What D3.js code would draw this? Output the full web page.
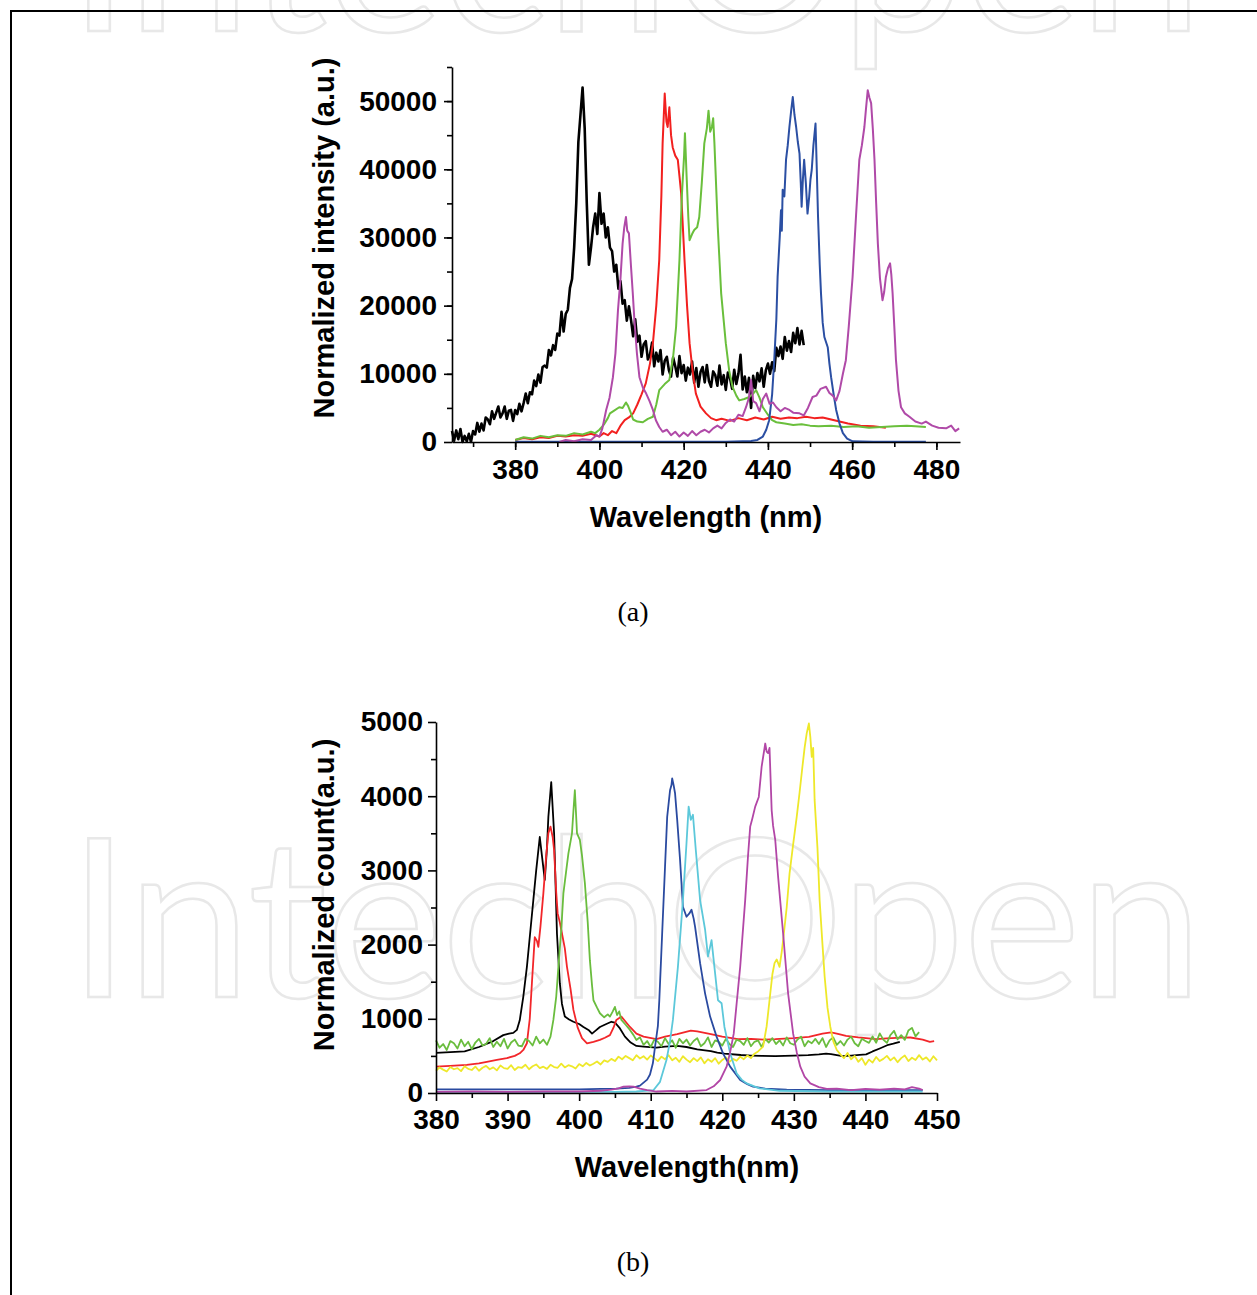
<!DOCTYPE html>
<html>
<head>
<meta charset="utf-8">
<script src="https://cdn.jsdelivr.net/npm/d3@7"></script>
<style>
  html, body { margin: 0; padding: 0; background: #fff; }
  svg { display: block; }
  .tick text { font-family: "Liberation Sans", Arial, sans-serif; font-weight: bold; font-size: 28px; fill: #000; }
  .domain, .tick line { stroke: #000; stroke-width: 1.6px; }
</style>
</head>
<body>
<svg id="chart" width="1257" height="1295"></svg>
<script>
// ---------------- Panel (a) data ----------------
const aXTicks = [380, 400, 420, 440, 460, 480];
const aYTicks = [0, 10000, 20000, 30000, 40000, 50000];
// black spectrum read every 0.5 nm starting at 365 nm
const aBlackStart = 365, aBlackStep = 0.5;
const aBlack = [
  1600,200,1700,400,1900,0,900,100,1200,0,
  1600,1100,2800,1500,2700,1700,3600,3300,2600,4500,
  3400,4300,5200,3600,4200,5200,3400,4600,4700,3100,
  4700,4100,5600,4500,5700,7100,5700,7300,7000,9000,
  8200,9900,8700,11000,11200,10900,13500,12700,14200,13500,
  15900,15600,19100,16200,18800,19400,22600,23900,28500,35000,
  44000,48000,52000,46000,35000,26000,28500,31500,33500,30500,
  36500,32000,33500,30000,31500,28500,28000,25000,26000,22500,
  23600,20300,20800,17800,19900,17900,15500,18000,14700,15600,
  12500,14300,14800,12100,12800,14600,11100,13100,11800,13500,
  9900,11900,12500,10500,9600,12400,11100,9600,12600,10100,
  11300,9000,10900,9900,11800,8700,10850,8100,10250,11000,
  8750,11300,8950,8100,10350,9800,8250,11200,8450,9800,
  7650,10200,9350,7800,10600,8500,10000,12800,7700,9600,
  7300,9400,5000,9700,7900,10100,8900,10800,8100,10500,
  11500,10000,11700,10400,13800,12600,14000,12200,15400,13400,
  14800,13200,16000,14500,16700,14300,16300,14200
];
const aRed = [[380,300],[382,600],[384,400],[386,700],[388,600],[390,900],[392,800],[394,1000],[396,900],[398,1200],[400,800],[401,1300],[402,1000],[403,1600],[404,1300],[405,2400],[406,3200],[407,3600],[408,4200],[409,5500],[410,7000],[411,8600],[412,11500],[412.7,14500],[413.5,20000],[414.2,26700],[414.7,36000],[415,43800],[415.5,51100],[415.9,47000],[416.2,46200],[416.6,49100],[417,45000],[417.4,43200],[418,42000],[418.6,41400],[419,39000],[419.4,36500],[420.2,26700],[420.8,20000],[421.4,14500],[422.2,10000],[422.9,7100],[424,5200],[425.3,4200],[426.5,3500],[427.7,3200],[429,3400],[431,3100],[433,3500],[435,3200],[437,3600],[439,3300],[441,3700],[443,3400],[445,3600],[447,3500],[449,3700],[451,3500],[453,3600],[455,3300],[457,3000],[459,2700],[462,2400],[465,2300],[468,2100]];
const aGreen = [[380,300],[382,700],[384,500],[386,900],[388,700],[390,1000],[392,900],[394,1300],[396,1100],[398,1500],[399,1300],[400,1800],[401,2500],[402,3500],[402.5,4200],[403.5,4600],[404.7,5100],[405.5,5000],[406.3,5800],[406.8,5300],[407.5,4200],[408,3300],[409,3000],[410.3,2900],[411.5,3400],[412.7,3700],[413.5,5500],[414.2,7600],[415.5,8500],[416.6,9100],[417.5,12500],[418.2,16900],[419,26700],[419.6,36500],[420.1,42000],[420.3,45300],[420.7,38900],[421.1,33000],[421.4,29600],[422,30500],[422.5,31100],[423.2,31500],[423.7,33000],[424.3,38000],[424.9,43800],[425.5,46000],[425.9,48600],[426.3,45500],[426.7,46200],[427,47500],[427.3,43800],[428.1,31500],[428.9,21800],[430,14500],[430.8,10500],[431.6,8100],[432.5,6800],[433.2,6100],[434.4,6300],[435.6,6600],[436.5,7100],[437.2,7600],[438,6500],[438.8,5100],[440,4000],[441,3200],[442,2900],[444,2700],[446,2500],[448,2600],[450,2400],[452,2300],[455,2400],[458,2200],[461,2300],[464,2100],[467,2200],[470,2300],[473,2400],[475,2300],[477.5,2200]];
const aBlue = [[380,50],[390,50],[400,50],[410,50],[420,50],[430,50],[434,100],[436,150],[437.5,300],[438.8,800],[439.6,1800],[440.3,3200],[441,7000],[441.5,12000],[442,18000],[442.3,24200],[442.8,30000],[443.1,34000],[443.3,31000],[443.5,37000],[443.9,36000],[444.3,41400],[444.7,43500],[445.1,46200],[445.5,48500],[445.9,50600],[446.3,48000],[446.7,46200],[447.1,44000],[447.5,42300],[447.8,38000],[448,34500],[448.3,38500],[448.6,41400],[449,38000],[449.4,33500],[449.8,36000],[450.1,38500],[450.4,39900],[450.8,43500],[451.3,46700],[451.6,40000],[451.9,33000],[452.3,26000],[452.6,21800],[453,17500],[453.4,15400],[454.2,13900],[454.6,11500],[455,9500],[455.6,7000],[456.2,4700],[457,2700],[457.8,1300],[458.8,500],[460.1,100],[465,50],[470,50],[477.5,50]];
const aMagenta = [[390.5,0],[392,300],[394,100],[396,400],[398,300],[399.3,1000],[400,800],[400.7,2000],[401.6,4700],[402.4,6500],[403.2,9500],[403.8,13000],[404.4,19300],[405,24000],[405.5,29100],[405.9,31500],[406.3,33000],[406.6,31000],[407,30600],[407.5,25700],[407.9,22000],[408.3,17900],[408.9,13000],[409.5,9500],[410.3,8000],[411.1,7100],[411.9,6000],[412.7,4700],[413.4,3200],[414.2,2200],[415,1500],[416,1800],[417,1000],[418,1500],[419,800],[420,1400],[421,900],[422,1600],[423,1000],[424,1500],[425,1800],[426,1400],[427,2000],[428,2400],[429,2000],[430,2800],[431,3300],[432,3000],[433,4000],[434,3800],[434.8,5100],[435.5,6500],[436,9100],[436.5,6000],[437.2,5700],[438,4500],[438.8,6300],[439.6,7100],[440.4,5600],[441.2,5800],[442,5100],[443,4500],[444,5000],[445.1,4700],[446,4300],[447.5,4200],[448.5,3900],[449.5,5000],[450.6,6600],[451.5,6800],[452.5,7800],[453.8,8100],[454.6,7200],[455.4,6800],[456.2,6100],[457,7500],[457.8,10000],[458.5,12000],[459.2,17000],[460.1,24200],[460.9,33000],[461.7,41400],[462.3,43500],[462.9,46200],[463.3,49000],[463.7,51600],[464.1,50500],[464.5,49700],[464.9,46000],[465.3,41400],[465.7,35000],[466.1,29100],[466.6,24000],[467.2,20800],[467.6,22000],[468,24200],[468.5,25500],[469,26200],[469.3,24500],[469.6,21800],[470,17000],[470.4,12000],[471,7500],[471.6,5100],[472.5,4200],[473.6,3700],[475,3000],[476.5,2700],[477.5,3000],[479,2400],[480.5,2100],[482.3,2000],[483.5,2400],[484.5,1600],[485.4,2000]];

// ---------------- Panel (b) data ----------------
const bXTicks = [380, 390, 400, 410, 420, 430, 440, 450];
const bYTicks = [0, 1000, 2000, 3000, 4000, 5000];
const bBlack = [[380,540],[382,550],[384,560],[386,620],[388,700],[389.4,780],[390.2,800],[390.8,810],[391.3,850],[391.7,980],[392.2,1300],[392.7,1700],[393.2,2200],[393.6,2600],[394,3000],[394.5,3450],[394.8,3200],[395.2,2870],[395.5,3300],[395.7,3720],[396.1,4190],[396.5,3500],[396.9,2150],[397.3,1480],[397.6,1200],[398,1030],[398.6,990],[399.2,960],[400,930],[400.6,890],[401.3,850],[401.8,800],[402.3,840],[402.9,890],[403.8,930],[404.5,960],[405,950],[405.7,870],[406.4,760],[407.2,680],[408,634],[409,625],[410.8,612],[412,625],[413.7,634],[415,620],[416.5,589],[418.4,565],[419.3,543],[420.3,530],[422.6,512],[424,505],[425.5,500],[427.4,497],[430,505],[432,510],[433.5,520],[434.5,530],[435.2,525],[436.8,497],[438,505],[439.2,515],[440.1,520],[441,560],[442,600],[443.2,650],[443.9,665],[444.8,690]];
const bRed = [[380,355],[382,365],[384.3,380],[386,400],[387.1,420],[388.5,445],[389.9,470],[391,500],[391.7,535],[392.2,580],[392.7,670],[393.1,1000],[393.4,1480],[393.8,2100],[394.1,2050],[394.3,1970],[394.6,2250],[395,2690],[395.4,3200],[395.7,3500],[396,3590],[396.3,3450],[396.5,3275],[396.8,2700],[397,2420],[397.3,2300],[397.6,2150],[398,1950],[398.3,1700],[398.8,1400],[399.2,1120],[399.8,880],[400.4,740],[401.1,670],[402,690],[402.9,715],[403.6,745],[404.3,780],[404.8,880],[405.2,985],[405.9,1030],[406.5,960],[407.1,890],[408,800],[409,760],[410.8,725],[412,760],[413.7,794],[415.6,840],[416.5,830],[418.4,794],[420,760],[422.2,725],[424,730],[425.9,720],[427.4,725],[430,740],[432.1,757],[434,800],[435.2,817],[436,800],[437.3,771],[439,750],[441.5,725],[443,735],[445,745],[446.3,748],[448,720],[449,690],[449.6,700]];
const bGreen = [[380,710],[380.5,610],[381,660],[381.5,580],[382,700],[382.5,670],[383,600],[383.5,720],[384,630],[384.5,690],[385,590],[385.5,680],[386,730],[386.5,640],[387,660],[387.5,740],[388,620],[388.5,690],[389,630],[389.5,730],[390,600],[390.5,680],[391,720],[391.5,640],[392,630],[392.5,730],[393,700],[393.5,640],[394,760],[394.5,670],[395,720],[395.5,650],[396,760],[396.4,985],[396.8,1300],[397.1,1700],[397.5,2200],[397.8,2690],[398.2,3000],[398.5,3230],[399,3500],[399.2,3800],[399.4,4080],[399.6,3700],[399.7,3500],[400.1,3410],[400.4,3200],[400.8,2830],[401.2,2300],[401.5,1790],[401.8,1450],[402,1250],[402.5,1150],[402.9,1075],[403.5,1020],[404,1060],[404.3,1030],[404.7,1100],[405,1160],[405.3,1050],[405.6,1100],[405.9,985],[406.5,920],[407.1,850],[407.6,780],[408,715],[408.5,750],[409,650],[409.5,700],[410,620],[410.5,720],[411,690],[411.5,630],[412,740],[412.5,660],[413,710],[413.5,610],[414,730],[414.5,670],[415,720],[415.5,640],[416,700],[416.5,740],[417,630],[417.5,670],[418,750],[418.5,620],[419,710],[419.5,690],[420,640],[420.5,730],[421,660],[421.5,620],[422,720],[422.5,700],[423,650],[423.5,740],[424,630],[424.5,690],[425,710],[425.5,620],[426,730],[426.5,680],[427,740],[427.5,660],[428,710],[428.5,640],[429,750],[429.5,670],[430,650],[430.5,720],[431,760],[431.5,630],[432,700],[432.5,670],[433,730],[433.5,660],[434,740],[434.5,620],[435,710],[435.5,750],[436,650],[436.5,700],[437,640],[437.5,720],[438,760],[438.5,670],[439,630],[439.5,730],[440,700],[440.5,676],[441,762],[441.5,678],[442,804],[442.5,720],[443,676],[443.5,782],[444,838],[444.5,724],[445,780],[445.5,716],[446,842],[446.5,878],[447,764],[447.5,820]];
const bYellow = [[380,300],[380.5,345],[381,315],[381.5,290],[382,350],[382.5,320],[383,335],[383.5,295],[384,360],[384.5,325],[385,310],[385.5,355],[386,300],[386.5,340],[387,365],[387.5,320],[388,345],[388.5,305],[389,370],[389.5,335],[390,325],[390.5,375],[391,310],[391.5,350],[392,340],[392.5,380],[393,320],[393.5,360],[394,385],[394.5,335],[395,355],[395.5,325],[396,380],[396.5,350],[397,340],[397.5,395],[398,345],[398.5,375],[399,360],[399.5,330],[400,390],[400.5,360],[401,405],[401.5,370],[402,395],[402.5,425],[403,385],[403.5,440],[404,420],[404.5,460],[405,430],[405.5,490],[406,455],[406.5,500],[407,470],[407.5,440],[408,510],[408.5,465],[409,495],[409.5,450],[410,505],[410.5,470],[411,430],[411.5,490],[412,455],[412.5,510],[413,440],[413.5,475],[414,420],[414.5,495],[415,450],[415.5,415],[416,470],[416.5,430],[417,480],[417.5,400],[418,455],[418.5,420],[419,470],[419.5,395],[420,445],[420.5,480],[421,420],[421.5,460],[422,435],[422.5,490],[423,455],[423.5,505],[424,470],[424.5,530],[425,560],[425.7,625],[426.2,900],[426.6,1250],[427,1600],[427.3,1750],[427.6,1800],[428,1700],[428.3,1900],[428.5,2060],[429,2500],[429.4,2960],[429.9,3350],[430.4,3720],[430.8,4050],[431.2,4400],[431.5,4650],[431.8,4850],[432.1,4980],[432.3,4800],[432.5,4530],[432.7,4650],[432.9,3950],[433.3,3300],[433.6,2600],[434,2000],[434.3,1570],[434.7,1150],[435.1,890],[435.5,700],[436,580],[436.5,520],[437,470],[437.5,540],[438,455],[438.5,500],[439,420],[439.5,470],[440,380],[440.5,450],[441,410],[441.5,485],[442,430],[442.5,460],[443,500],[443.5,440],[444,480],[444.5,415],[445,470],[445.5,505],[446,430],[446.5,475],[447,445],[447.5,510],[448,450],[448.5,480],[449,425],[449.5,495],[450,440]];
const bBlue = [[380,50],[385,50],[390,50],[395,50],[400,50],[403,55],[405.2,60],[407,70],[408,85],[408.5,100],[409.5,180],[409.9,250],[410.3,400],[410.6,620],[411,900],[411.2,1250],[411.6,2150],[412,3050],[412.3,3720],[412.7,4080],[412.9,4150],[413,4240],[413.2,4150],[413.4,4040],[413.7,3680],[414.1,3140],[414.5,2510],[415,2375],[415.4,2420],[415.7,2470],[416,2350],[416.2,2240],[416.9,1750],[417.6,1340],[418.3,1030],[419.2,760],[420.1,535],[421.1,355],[422,240],[422.5,175],[423.5,120],[424.3,85],[426,60],[429,45],[435,40],[440,40],[445,40],[448,40]];
const bCyan = [[380,15],[390,15],[400,15],[405,15],[408,20],[410.4,40],[411.3,150],[412.2,445],[412.7,700],[413.1,985],[413.8,1700],[414.5,2600],[415,3365],[415.3,3860],[415.6,3680],[415.9,3750],[416.3,3275],[416.9,2600],[417.6,2200],[418,1840],[418.5,2060],[419,1610],[419.4,1250],[419.9,1210],[420.3,890],[421.1,535],[422,265],[422.7,180],[423.4,130],[425.2,63],[428,30],[435,20],[448,20]];
const bMagenta = [[380,15],[385,20],[390,15],[395,20],[400,20],[403,30],[404.5,45],[405.5,63],[406.2,85],[407,90],[407.6,85],[408.5,60],[409.5,40],[410.8,20],[413,30],[415,20],[417.8,40],[418.8,90],[419.7,175],[420.6,355],[421.1,550],[421.6,800],[422,1200],[422.5,1700],[423.2,2600],[423.6,3200],[423.9,3590],[424.2,3700],[424.6,3860],[425.1,3990],[425.5,4400],[426,4710],[426.2,4600],[426.4,4580],[426.6,4650],[426.9,3810],[427.1,3600],[427.4,3410],[427.8,2915],[428.5,2150],[429.2,1340],[429.9,800],[430.4,550],[430.9,355],[431.5,220],[432.3,130],[433.5,80],[434.6,55],[436,60],[438,40],[440,55],[442,45],[444,60],[445.5,50],[446.5,80],[447.5,60],[448,40]];

// ---------------- Drawing ----------------
const svg = d3.select("#chart");
const FONT = '"Liberation Sans", Arial, sans-serif';

// watermark (behind everything)
[31, 997].forEach(base => {
  svg.append("text")
    .attr("x", 68).attr("y", base)
    .attr("textLength", 1135).attr("lengthAdjust", "spacing")
    .attr("font-family", "Lato, 'Open Sans', sans-serif")
    .attr("font-size", 222)
    .attr("fill", "none").attr("stroke", "#e8e8e8").attr("stroke-width", 2.5)
    .text("IntechOpen");
});

// frame
svg.append("path").attr("d", "M11,1295V11H1257").attr("fill", "none")
  .attr("stroke", "#000").attr("stroke-width", 2);

function panel(cfg) {
  const x = d3.scaleLinear().domain(cfg.xDom).range(cfg.xRange);
  const y = d3.scaleLinear().domain(cfg.yDom).range(cfg.yRange);
  const g = svg.append("g");
  const line = d3.line().x(d => x(d[0])).y(d => y(d[1]));
  cfg.series.forEach(s => {
    g.append("path").datum(s.data).attr("d", line)
      .attr("fill", "none").attr("stroke", s.color)
      .attr("stroke-width", s.w).attr("stroke-linejoin", "round");
  });
  // minor ticks
  g.append("g").attr("transform", `translate(0,${cfg.yRange[0]})`)
    .call(d3.axisBottom(x).tickValues(cfg.xMinor).tickSize(5).tickFormat(""))
    .call(a => a.select(".domain").remove());
  g.append("g").attr("transform", `translate(${cfg.xRange[0]},0)`)
    .call(d3.axisLeft(y).tickValues(cfg.yMinor).tickSize(5).tickFormat(""))
    .call(a => a.select(".domain").remove());
  // major axes
  g.append("g").attr("transform", `translate(0,${cfg.yRange[0]})`)
    .call(d3.axisBottom(x).tickValues(cfg.xTicks).tickSize(8).tickSizeOuter(0)
      .tickPadding(cfg.xPad).tickFormat(d3.format("d")));
  g.append("g").attr("transform", `translate(${cfg.xRange[0]},0)`)
    .call(d3.axisLeft(y).tickValues(cfg.yTicks).tickSize(8).tickSizeOuter(0)
      .tickPadding(cfg.yPad).tickFormat(d3.format("d")));
  // titles
  svg.append("text").attr("x", cfg.xTitle[0]).attr("y", cfg.xTitle[1])
    .attr("text-anchor", "middle").attr("font-family", FONT)
    .attr("font-weight", "bold").attr("font-size", 29).text(cfg.xLabel);
  svg.append("text")
    .attr("transform", `translate(${cfg.yTitle[0]},${cfg.yTitle[1]}) rotate(-90)`)
    .attr("text-anchor", "middle").attr("font-family", FONT)
    .attr("font-weight", "bold").attr("font-size", 29).text(cfg.yLabel);
  svg.append("text").attr("x", cfg.cap[0]).attr("y", cfg.cap[1])
    .attr("text-anchor", "middle").attr("font-family", '"Liberation Serif", "DejaVu Serif", serif')
    .attr("font-size", 28).text(cfg.caption);
}

const aBlackPts = aBlack.map((v, i) => [aBlackStart + i * aBlackStep, v]);

panel({
  xDom: [365, 485.6], xRange: [452, 960],
  yDom: [0, 55000], yRange: [442, 67],
  xTicks: aXTicks, yTicks: aYTicks,
  xMinor: d3.range(370, 485, 10), yMinor: d3.range(5000, 55001, 5000),
  xPad: 9, yPad: 7,
  xLabel: "Wavelength (nm)", yLabel: "Normalized intensity (a.u.)",
  xTitle: [706, 527], yTitle: [334, 238], cap: [633, 621], caption: "(a)",
  series: [
    {data: aBlackPts, color: "#000000", w: 2.6},
    {data: aRed, color: "#f2201f", w: 2},
    {data: aGreen, color: "#6abf3c", w: 2},
    {data: aBlue, color: "#2b4fa3", w: 2},
    {data: aMagenta, color: "#b04aa8", w: 2}
  ]
});

panel({
  xDom: [380, 450], xRange: [436, 937],
  yDom: [0, 5000], yRange: [1093, 722],
  xTicks: bXTicks, yTicks: bYTicks,
  xMinor: d3.range(385, 450, 10), yMinor: d3.range(500, 5000, 1000),
  xPad: 8, yPad: 5,
  xLabel: "Wavelength(nm)", yLabel: "Normalized count(a.u.)",
  xTitle: [687, 1177], yTitle: [334, 895], cap: [633, 1271], caption: "(b)",
  series: [
    {data: bBlack, color: "#000000", w: 1.8},
    {data: bRed, color: "#f2262a", w: 1.8},
    {data: bGreen, color: "#6abd3e", w: 1.8},
    {data: bYellow, color: "#eee82a", w: 1.8},
    {data: bBlue, color: "#2a4aa0", w: 1.8},
    {data: bCyan, color: "#5cc8da", w: 1.8},
    {data: bMagenta, color: "#b246a6", w: 1.8}
  ]
});
</script>
</body>
</html>
